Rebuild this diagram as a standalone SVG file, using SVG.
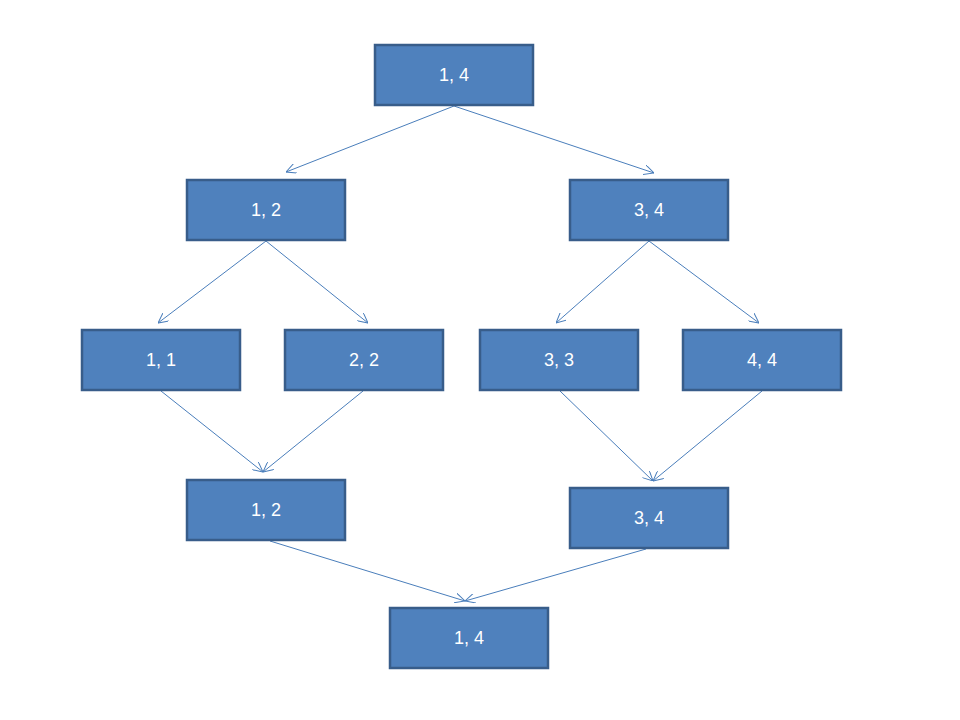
<svg xmlns="http://www.w3.org/2000/svg" width="960" height="720" viewBox="0 0 960 720">
<style>
.box{fill:#4f81bd;stroke:#385d8a;stroke-width:2.5}
.lbl{fill:#ffffff;font-family:"Liberation Sans","DejaVu Sans",sans-serif;font-size:18px;text-anchor:middle;dominant-baseline:central}
.edge{stroke:#4a7ebb;stroke-width:1;fill:none;marker-end:url(#arr)}
</style>
<defs>
<marker id="arr" viewBox="0 0 10 10" refX="10" refY="5" markerWidth="10" markerHeight="10" markerUnits="userSpaceOnUse" orient="auto">
<path d="M0,0 L10,5 L0,10" fill="none" stroke="#4a7ebb" stroke-width="1"/>
</marker>
</defs>
<rect width="960" height="720" fill="#ffffff"/>
<g id="connectors">
<line class="edge" x1="454" y1="106" x2="286" y2="172"/>
<line class="edge" x1="454" y1="106" x2="654" y2="173"/>
<line class="edge" x1="266" y1="241" x2="158" y2="323"/>
<line class="edge" x1="266" y1="241" x2="368" y2="323"/>
<line class="edge" x1="649" y1="241" x2="556" y2="323"/>
<line class="edge" x1="649" y1="241" x2="759" y2="323"/>
<line class="edge" x1="161" y1="391" x2="263" y2="472"/>
<line class="edge" x1="363" y1="391" x2="263" y2="472"/>
<line class="edge" x1="560" y1="391" x2="653" y2="481"/>
<line class="edge" x1="762" y1="391" x2="653" y2="481"/>
<line class="edge" x1="270" y1="541" x2="465" y2="601"/>
<line class="edge" x1="646" y1="549" x2="465" y2="601"/>
</g>
<g id="n14top"><rect class="box" x="375" y="45" width="158" height="60"/><text class="lbl" x="454" y="75">1, 4</text></g>
<g id="n12a"><rect class="box" x="187" y="180" width="158" height="60"/><text class="lbl" x="266" y="210">1, 2</text></g>
<g id="n34a"><rect class="box" x="570" y="180" width="158" height="60"/><text class="lbl" x="649" y="210">3, 4</text></g>
<g id="n11"><rect class="box" x="82" y="330" width="158" height="60"/><text class="lbl" x="161" y="360">1, 1</text></g>
<g id="n22"><rect class="box" x="285" y="330" width="158" height="60"/><text class="lbl" x="364" y="360">2, 2</text></g>
<g id="n33"><rect class="box" x="480" y="330" width="158" height="60"/><text class="lbl" x="559" y="360">3, 3</text></g>
<g id="n44"><rect class="box" x="683" y="330" width="158" height="60"/><text class="lbl" x="762" y="360">4, 4</text></g>
<g id="n12b"><rect class="box" x="187" y="480" width="158" height="60"/><text class="lbl" x="266" y="510">1, 2</text></g>
<g id="n34b"><rect class="box" x="570" y="488" width="158" height="60"/><text class="lbl" x="649" y="518">3, 4</text></g>
<g id="n14bot"><rect class="box" x="390" y="608" width="158" height="60"/><text class="lbl" x="469" y="638">1, 4</text></g>
</svg>
